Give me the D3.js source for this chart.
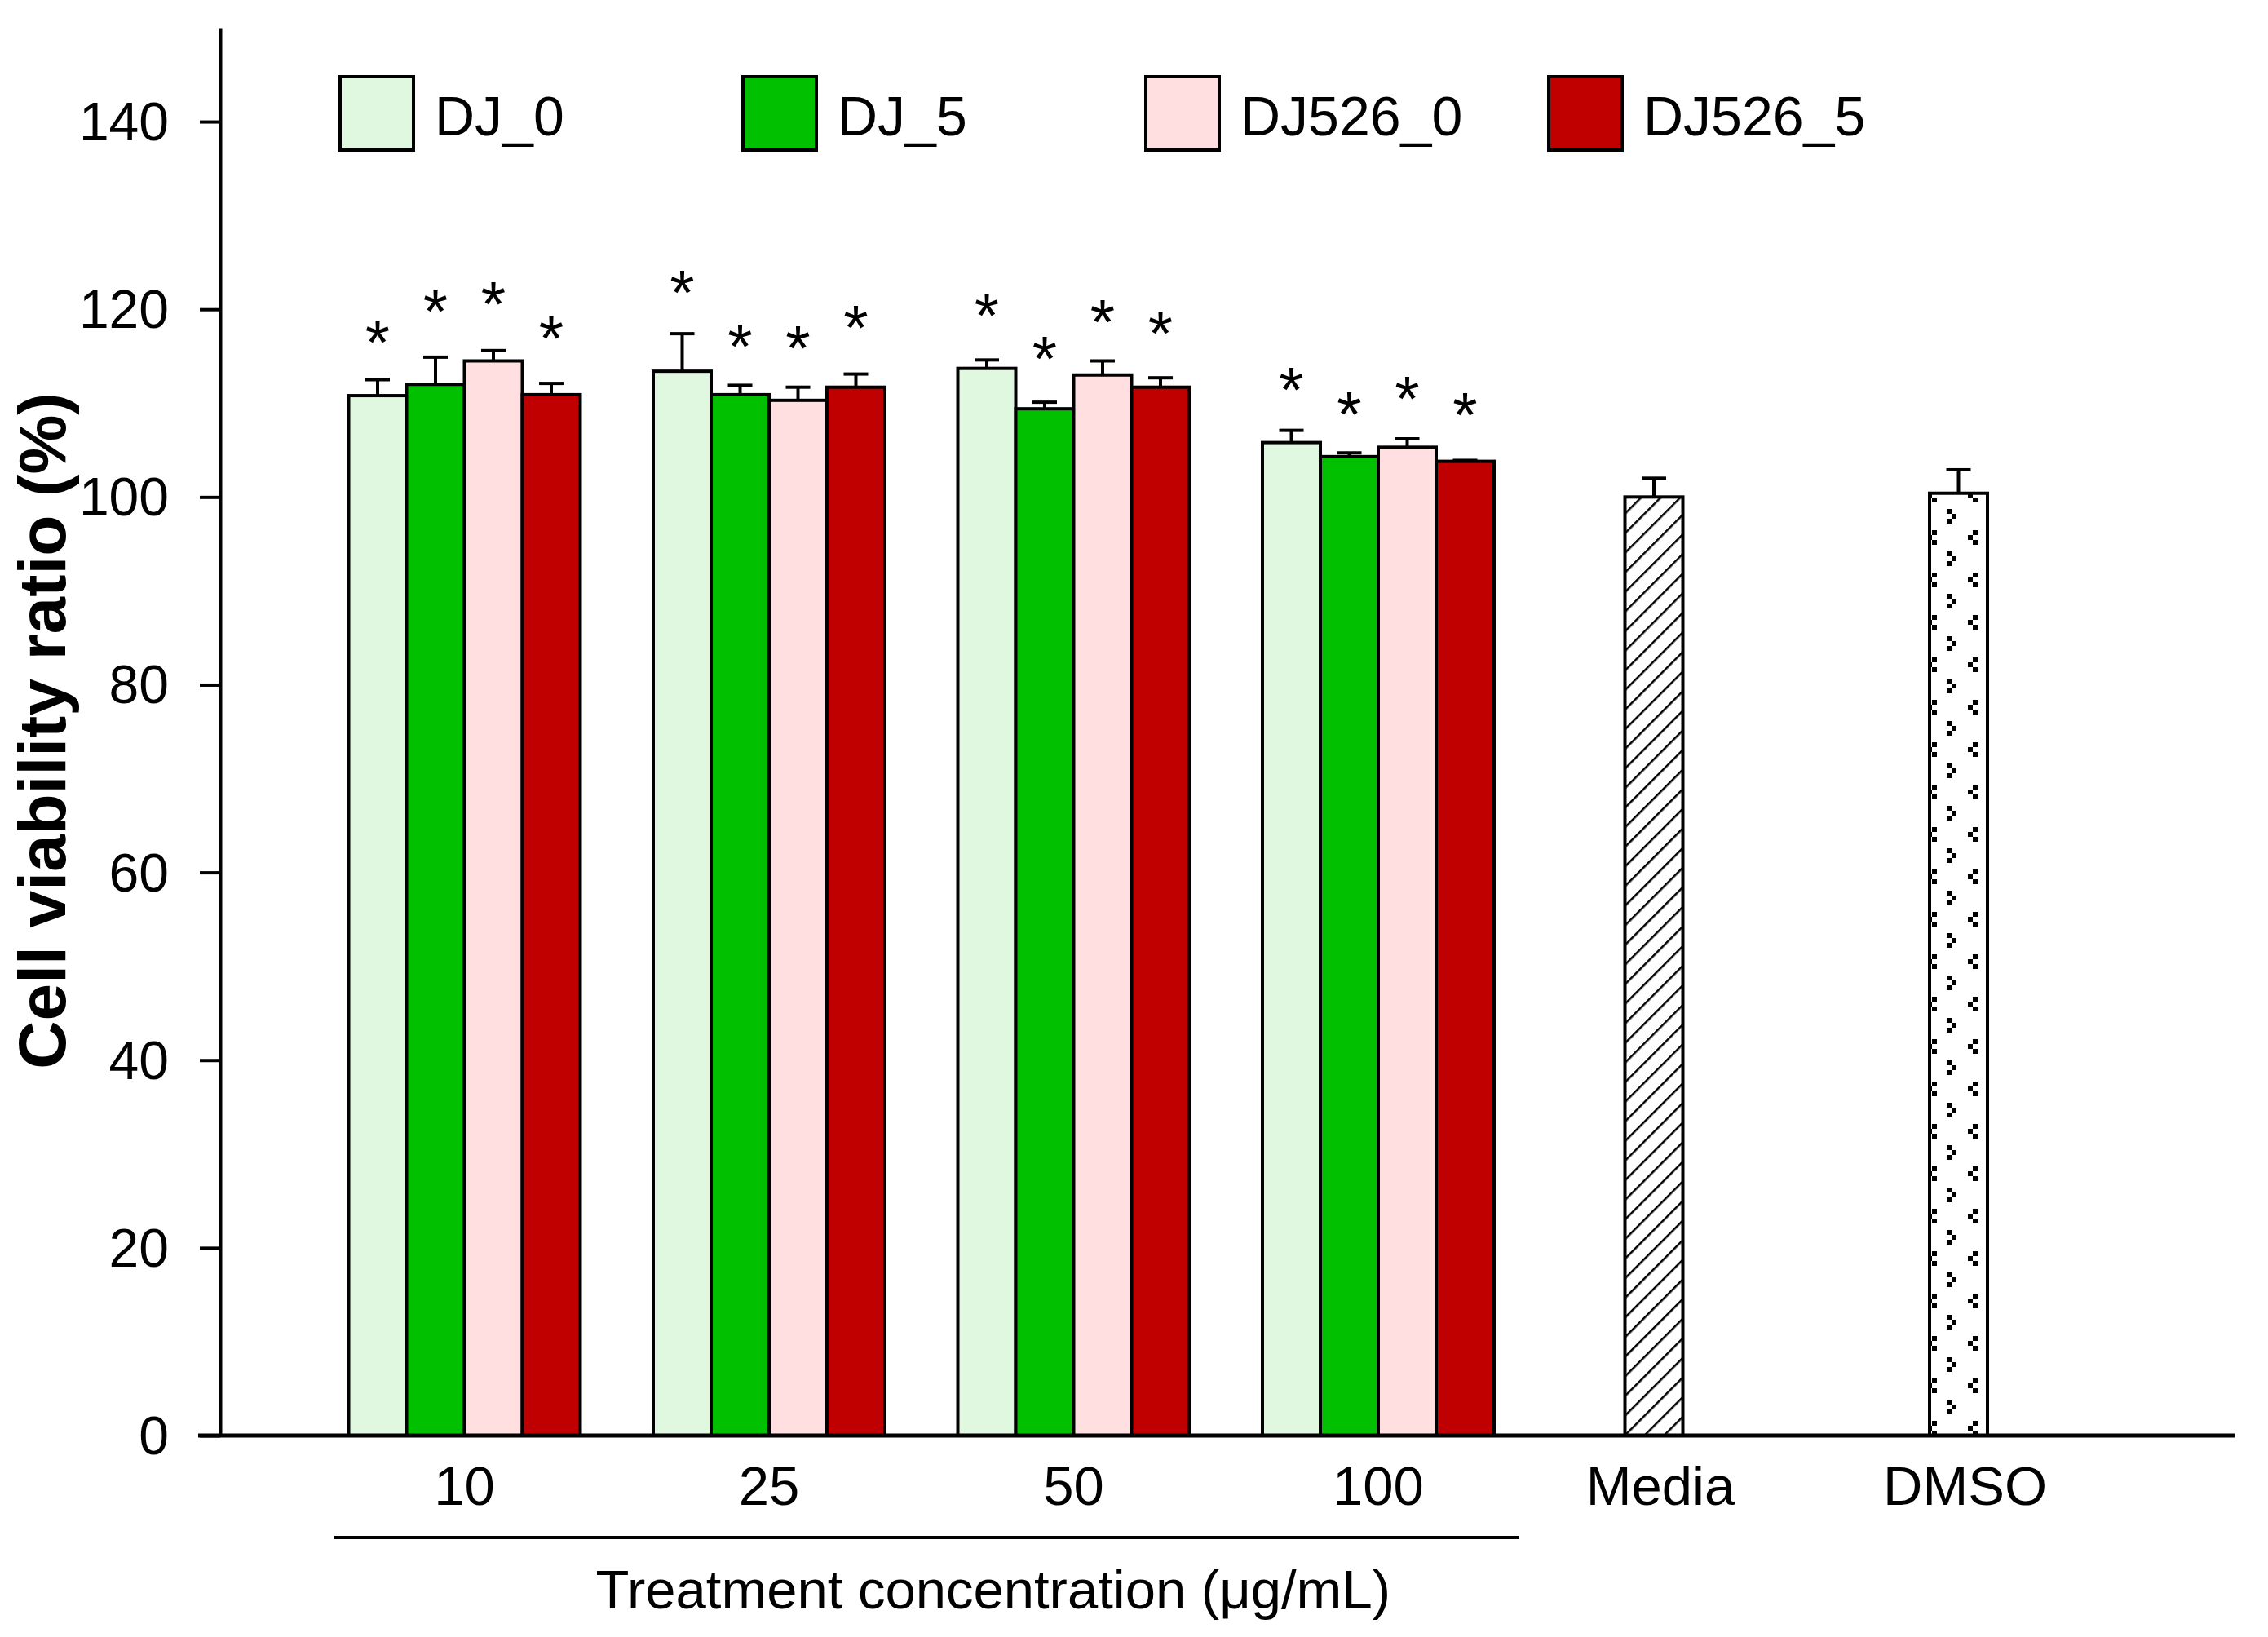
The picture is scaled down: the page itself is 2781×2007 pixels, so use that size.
<!DOCTYPE html>
<meta charset="utf-8">
<style>
  body { margin: 0; background: #fff; }
  text { font-family: "Liberation Sans", Arial, sans-serif; fill: #000; }
  .axis path, .axis line { stroke: #000; stroke-width: 4px; fill: none; }
  .axis text { font-size: 66px; }
  .bar { stroke: #000; stroke-width: 4px; }
  .err { stroke: #000; stroke-width: 4px; fill: none; }
</style>
<body>
<script src="https://cdn.jsdelivr.net/npm/d3@7"></script>
<script>

  // data
  var categories = ["10", "25", "50", "100"];
  var controls = ["Media", "DMSO"];
  var series = ["DJ_0", "DJ_5", "DJ526_0", "DJ526_5"];
  var colors = ["#dff8df", "#00c000", "#ffdfdf", "#c00000"];
  var yTicks = [0, 20, 40, 60, 80, 100, 120, 140];

  var dj0 = [110.8, 113.4, 113.7, 105.8];
  var dj5 = [112.0, 110.9, 109.4, 104.3];
  var dj526_0 = [114.5, 110.3, 113.0, 105.3];
  var dj526_5 = [110.9, 111.7, 111.7, 103.8];

  var dj0Err = [1.7, 4.0, 0.9, 1.3];
  var dj5Err = [2.9, 1.0, 0.7, 0.4];
  var dj526_0Err = [1.1, 1.4, 1.5, 0.9];
  var dj526_5Err = [1.2, 1.4, 1.0, 0.1];

  // height of the "*" marks
  var dj0Star = [117.9, 123.2, 120.8, 112.9];
  var dj5Star = [121.2, 117.5, 116.2, 110.3];
  var dj526_0Star = [122.0, 117.3, 120.1, 111.9];
  var dj526_5Star = [118.4, 119.5, 118.9, 110.2];

  var controlMeans = [100.0, 100.4];
  var controlErr = [2.0, 2.5];

  var means = [dj0, dj5, dj526_0, dj526_5];
  var errs = [dj0Err, dj5Err, dj526_0Err, dj526_5Err];
  var stars = [dj0Star, dj5Star, dj526_0Star, dj526_5Star];

  var W = 2781, H = 2007;

  var svg = d3.select("body").append("svg")
    .attr("width", W)
    .attr("height", H);

  svg.append("rect").attr("width", W).attr("height", H).attr("fill", "#fff");

  var y = d3.scaleLinear().domain([0, 150]).range([1760, 34]);

  // group centres and bar slots
  var x = d3.scalePoint().domain(categories.concat(controls)).range([569.5, 2437]);
  var slot = d3.scaleBand().domain(series).range([-142, 142]);

  // patterns for control bars
  var defs = svg.append("defs");
  var hatch = defs.append("pattern")
    .attr("id", "hatch")
    .attr("patternUnits", "userSpaceOnUse")
    .attr("width", 17).attr("height", 17)
    .attr("patternTransform", "rotate(45)");
  hatch.append("rect").attr("width", 17).attr("height", 17).attr("fill", "#fff");
  hatch.append("line").attr("x1", 1).attr("x2", 1).attr("y1", 0).attr("y2", 17)
    .attr("stroke", "#000").attr("stroke-width", 3);

  var dmsoLeft = x("DMSO") + slot("DJ_5");
  var dots = defs.append("pattern")
    .attr("id", "dots")
    .attr("patternUnits", "userSpaceOnUse")
    .attr("x", dmsoLeft).attr("y", 0)
    .attr("width", 50).attr("height", 52);
  dots.append("rect").attr("width", 50).attr("height", 52).attr("fill", "#fff");
  [[21, 0], [27, 6], [21, 12], [3, 26], [47, 32], [3, 38], [-3, 32]].forEach(function(p) {
    dots.append("rect").attr("x", p[0]).attr("y", p[1]).attr("width", 6).attr("height", 6).attr("fill", "#000");
  });

  // y axis
  svg.append("g")
    .attr("class", "axis")
    .attr("transform", "translate(270,0)")
    .call(d3.axisLeft(y).tickValues(yTicks).tickSize(25).tickSizeOuter(0).tickPadding(38))
    .call(function(g) { g.selectAll("text").attr("dy", "0.34em"); });

  // bars
  var rows = [];
  series.forEach(function(s, i) {
    categories.forEach(function(c, j) {
      rows.push({ s: s, c: c, v: means[i][j], e: errs[i][j], star: stars[i][j], fill: colors[i] });
    });
  });
  controls.forEach(function(c, j) {
    rows.push({ s: "DJ_5", c: c, v: controlMeans[j], e: controlErr[j], star: null,
      fill: j === 0 ? "url(#hatch)" : "url(#dots)" });
  });

  var bw = slot.bandwidth();

  svg.selectAll(".bar")
    .data(rows)
    .enter().append("rect")
    .attr("class", "bar")
    .attr("x", function(d) { return x(d.c) + slot(d.s); })
    .attr("y", function(d) { return y(d.v); })
    .attr("width", bw)
    .attr("height", function(d) { return y(0) - y(d.v); })
    .attr("fill", function(d) { return d.fill; });

  // error bars (upper only)
  var eb = svg.selectAll(".err")
    .data(rows)
    .enter().append("g")
    .attr("class", "err")
    .attr("transform", function(d) { return "translate(" + (x(d.c) + slot(d.s) + bw / 2) + ",0)"; });
  eb.append("line")
    .attr("y1", function(d) { return y(d.v); })
    .attr("y2", function(d) { return y(d.v + d.e); });
  eb.append("line")
    .attr("x1", -15).attr("x2", 15)
    .attr("y1", function(d) { return y(d.v + d.e); })
    .attr("y2", function(d) { return y(d.v + d.e); });

  // significance marks
  svg.selectAll(".star")
    .data(rows.filter(function(d) { return d.star !== null; }))
    .enter().append("text")
    .attr("class", "star")
    .attr("x", function(d) { return x(d.c) + slot(d.s) + bw / 2; })
    .attr("y", function(d) { return y(d.star) + 44; })
    .attr("text-anchor", "middle")
    .style("font-size", "78px")
    .text("*");

  // x axis line
  svg.append("line")
    .attr("x1", 243).attr("x2", 2740)
    .attr("y1", y(0)).attr("y2", y(0))
    .attr("stroke", "#000").attr("stroke-width", 5);

  // category labels
  svg.selectAll(".xlab")
    .data(categories.concat(controls))
    .enter().append("text")
    .attr("class", "xlab")
    .attr("x", function(d) { return controls.indexOf(d) >= 0 ? x(d) + slot("DJ_5") + bw / 2 + 8 : x(d); })
    .attr("y", 1845)
    .attr("text-anchor", "middle")
    .style("font-size", "67px")
    .text(function(d) { return d; });

  // bracket under concentration groups
  svg.append("line")
    .attr("x1", x("10") - 160).attr("x2", x("100") + 172)
    .attr("y1", 1885).attr("y2", 1885)
    .attr("stroke", "#000").attr("stroke-width", 4);

  svg.append("text")
    .attr("x", (x("10") + x("100")) / 2 + 88)
    .attr("y", 1972)
    .attr("text-anchor", "middle")
    .style("font-size", "67px")
    .text("Treatment concentration (\u03bcg/mL)");

  svg.append("text")
    .attr("transform", "translate(80,896) rotate(-90)")
    .attr("text-anchor", "middle")
    .style("font-size", "82px")
    .style("font-weight", "bold")
    .text("Cell viability ratio (%)");

  // legend
  var legend = svg.selectAll(".legend")
    .data(series)
    .enter().append("g")
    .attr("class", "legend")
    .attr("transform", function(d, i) { return "translate(" + (417 + i * 494) + ",94)"; });
  legend.append("rect")
    .attr("width", 90).attr("height", 90)
    .attr("fill", function(d, i) { return colors[i]; })
    .attr("stroke", "#000").attr("stroke-width", 4);
  legend.append("text")
    .attr("x", 116).attr("y", 72)
    .style("font-size", "68px")
    .text(function(d) { return d; });

</script>
